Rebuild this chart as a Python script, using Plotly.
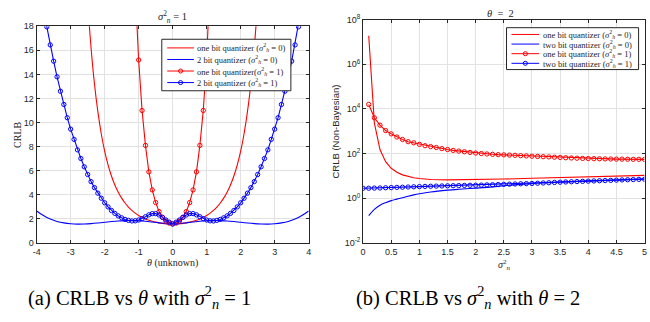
import plotly.graph_objects as go

W, H = 650, 322

# ---------------- Left panel data (sigma_n^2 = 1) ----------------
theta_one_bit = [round(-2.6 + 0.1 * i, 1) for i in range(53)]
crlb_one_bit_h0 = [25.15, 20.08, 16.22, 13.22, 10.90, 9.069, 7.627, 6.479, 5.557, 4.814,
                   4.210, 3.717, 3.311, 2.977, 2.700, 2.471, 2.280, 2.121, 1.990, 1.881,
                   1.793, 1.721, 1.665, 1.623, 1.594, 1.577, 1.571, 1.577, 1.594, 1.623,
                   1.665, 1.721, 1.793, 1.881, 1.990, 2.121, 2.280, 2.471, 2.700, 2.977,
                   3.311, 3.717, 4.210, 4.814, 5.557, 6.479, 7.627, 9.069, 10.90, 13.22,
                   16.22, 20.08, 25.15]

theta_two_bit = [round(-4.0 + 0.2 * i, 1) for i in range(41)]
crlb_two_bit_h0 = [2.65, 2.27, 1.98, 1.78, 1.66, 1.59, 1.56, 1.57, 1.60, 1.65,
                   1.71, 1.77, 1.82, 1.85, 1.86, 1.84, 1.80, 1.73, 1.66, 1.60,
                   1.57,
                   1.60, 1.66, 1.73, 1.80, 1.84, 1.86, 1.85, 1.82, 1.77, 1.71,
                   1.65, 1.60, 1.57, 1.56, 1.59, 1.66, 1.78, 1.98, 2.27, 2.65]

theta_one_bit_h1 = [round(-1.2 + 0.1 * i, 1) for i in range(25)]
crlb_one_bit_h1 = [29.0, 21.0, 15.2, 11.0, 8.10, 5.90, 4.40, 3.35, 2.60, 2.12, 1.80, 1.64,
                   1.57,
                   1.64, 1.80, 2.12, 2.60, 3.35, 4.40, 5.90, 8.10, 11.0, 15.2, 21.0, 29.0]

theta_two_bit_h1 = [round(-4.0 + 0.1 * i, 1) for i in range(81)]
crlb_two_bit_h1 = [23.2, 21.3, 19.6, 17.95, 16.45, 15.1, 13.8, 12.6, 11.5, 10.4,
                   9.45, 8.60, 7.73, 7.01, 6.32, 5.68, 5.09, 4.59, 4.13, 3.71,
                   3.33, 2.99, 2.69, 2.45, 2.24, 2.08, 1.95, 1.87, 1.82, 1.83,
                   1.90, 2.01, 2.17, 2.33, 2.43, 2.43, 2.32, 2.12, 1.90, 1.72,
                   1.57,
                   1.72, 1.90, 2.12, 2.32, 2.43, 2.43, 2.33, 2.17, 2.01, 1.90,
                   1.83, 1.82, 1.87, 1.95, 2.08, 2.24, 2.45, 2.69, 2.99, 3.33,
                   3.71, 4.13, 4.59, 5.09, 5.68, 6.32, 7.01, 7.73, 8.60, 9.45,
                   10.4, 11.5, 12.6, 13.8, 15.1, 16.45, 17.95, 19.6, 21.3, 23.2]

# ---------------- Right panel data (theta = 2) ----------------
sig_one_bit_h0 = [0.1, 0.2, 0.3, 0.4, 0.5, 0.6, 0.7, 0.8, 0.9, 1.0,
                  1.2, 1.5, 2.0, 2.5, 3.0, 3.5, 4.0, 4.5, 5.0]
nb_one_bit_h0 = [1.88e7, 2360, 151, 43.3, 21.9, 14.5, 11.1, 9.34, 8.28, 7.63,
                 6.93, 6.59, 6.73, 7.19, 7.77, 8.43, 9.12, 9.84, 10.57]

sig_two_bit_h0 = [0.1, 0.2, 0.3, 0.4, 0.5, 0.6, 0.7, 0.8, 0.9, 1.0,
                  1.2, 1.5, 1.7, 2.0, 2.3, 2.5, 3.0, 3.5, 4.0, 4.5, 5.0]
nb_two_bit_h0 = [0.166, 0.316, 0.48, 0.63, 0.78, 0.91, 1.05, 1.23, 1.41, 1.58,
                 1.90, 2.29, 2.51, 2.82, 3.20, 3.60, 4.50, 5.25, 5.95, 6.65, 7.30]

sig_one_bit_h1 = [round(0.1 * i, 1) for i in range(1, 51)]
nb_one_bit_h1 = [15800, 3980, 1860, 1070, 759, 550, 427, 339, 302, 257,
                 224, 204, 186, 166, 151, 138, 129, 120, 112, 105,
                 100, 95.5, 92.3, 89.1, 87.1, 85.1, 83.2, 80.4, 78.2, 75.9,
                 74.1, 72.4, 70.8, 68.4, 66.8, 64.6, 63.1, 61.7, 60.3, 59.6,
                 58.9, 58.2, 57.5, 56.9, 56.2, 56.0, 55.6, 55.2, 55.0, 54.6]

sig_two_bit_h1 = [round(0.1 * i, 1) for i in range(0, 51)]
nb_two_bit_h1 = [2.77, 2.80, 2.83, 2.87, 2.93, 2.99, 3.05, 3.10, 3.17, 3.24, 3.31,
                 3.37, 3.43, 3.48, 3.53, 3.58, 3.63, 3.68, 3.73, 3.78, 3.82,
                 3.87, 3.94, 4.00, 4.08, 4.17, 4.25, 4.33, 4.42, 4.50, 4.57,
                 4.68, 4.80, 4.93, 5.07, 5.20, 5.33, 5.45, 5.56, 5.68, 5.80,
                 5.93, 6.05, 6.18, 6.30, 6.45, 6.58, 6.70, 6.83, 6.96, 7.08]

left_legend = [
    ("red", False, "one bit quantizer (<i>σ</i><sup>2</sup><sub><i>h</i></sub> = 0)"),
    ("blue", False, "2 bit quantizer (<i>σ</i><sup>2</sup><sub><i>h</i></sub> = 0)"),
    ("red", True, "one bit quantizer(<i>σ</i><sup>2</sup><sub><i>h</i></sub> = 1)"),
    ("blue", True, "2 bit quantizer (<i>σ</i><sup>2</sup><sub><i>h</i></sub> = 1)"),
]
right_legend = [
    ("red", False, "one bit quantizer (<i>σ</i><sup>2</sup><sub><i>h</i></sub> = 0)"),
    ("blue", False, "two bit quantizer (<i>σ</i><sup>2</sup><sub><i>h</i></sub> = 0)"),
    ("red", True, "one bit quantizer (<i>σ</i><sup>2</sup><sub><i>h</i></sub> = 1)"),
    ("blue", True, "two bit quantizer (<i>σ</i><sup>2</sup><sub><i>h</i></sub> = 1)"),
]

AX = "#262626"
GRID = "#e2e2e2"
SERIF = "Liberation Serif, Times New Roman, serif"
SANS = "Liberation Sans, Arial, sans-serif"


def px(x):
    return x / W


def py(y):
    return 1 - y / H


fig = go.Figure()

MK = dict(symbol="circle-open", size=4.3, line=dict(width=1))

fig.add_trace(go.Scatter(x=theta_one_bit, y=crlb_one_bit_h0, mode="lines",
                         line=dict(color="red", width=1.1, shape="spline"), xaxis="x", yaxis="y"))
fig.add_trace(go.Scatter(x=theta_two_bit, y=crlb_two_bit_h0, mode="lines",
                         line=dict(color="blue", width=1.1, shape="spline"), xaxis="x", yaxis="y"))
fig.add_trace(go.Scatter(x=theta_one_bit_h1, y=crlb_one_bit_h1, mode="lines+markers",
                         line=dict(color="red", width=1.1), marker=dict(color="red", **MK),
                         xaxis="x", yaxis="y"))
fig.add_trace(go.Scatter(x=theta_two_bit_h1, y=crlb_two_bit_h1, mode="lines+markers",
                         line=dict(color="blue", width=1.1), marker=dict(color="blue", **MK),
                         xaxis="x", yaxis="y"))

fig.add_trace(go.Scatter(x=sig_one_bit_h0, y=nb_one_bit_h0, mode="lines",
                         line=dict(color="red", width=1.1), xaxis="x2", yaxis="y2"))
fig.add_trace(go.Scatter(x=sig_two_bit_h0, y=nb_two_bit_h0, mode="lines",
                         line=dict(color="blue", width=1.1, shape="spline"), xaxis="x2", yaxis="y2"))
fig.add_trace(go.Scatter(x=sig_one_bit_h1, y=nb_one_bit_h1, mode="lines+markers",
                         line=dict(color="red", width=1.1), marker=dict(color="red", **MK),
                         xaxis="x2", yaxis="y2"))
fig.add_trace(go.Scatter(x=sig_two_bit_h1, y=nb_two_bit_h1, mode="lines+markers",
                         line=dict(color="blue", width=1.1), marker=dict(color="blue", **MK),
                         xaxis="x2", yaxis="y2"))

axis_common = dict(showline=True, linecolor=AX, linewidth=1, mirror="ticks",
                   ticks="inside", ticklen=3, tickcolor=AX, tickwidth=1,
                   showgrid=True, gridcolor=GRID, gridwidth=1, zeroline=False,
                   tickfont=dict(family=SANS, size=9, color=AX))

left_x_ticks = [-4, -3, -2, -1, 0, 1, 2, 3, 4]
left_y_ticks = [0, 2, 4, 6, 8, 10, 12, 14, 16, 18]
right_x_ticks = [0, 0.5, 1, 1.5, 2, 2.5, 3, 3.5, 4, 4.5, 5]
right_y_ticks = [1e-2, 1e0, 1e2, 1e4, 1e6, 1e8]

fig.update_layout(
    width=W, height=H, margin=dict(l=0, r=0, t=0, b=0),
    paper_bgcolor="white", plot_bgcolor="white", showlegend=False,
    xaxis=dict(domain=[px(33), px(308)], range=[-4, 4], anchor="y",
               tickvals=left_x_ticks, ticktext=[str(v) for v in left_x_ticks], **axis_common),
    yaxis=dict(domain=[py(245), py(20)], range=[0, 18], anchor="x",
               tickvals=left_y_ticks, ticktext=[str(v) for v in left_y_ticks], **axis_common),
    xaxis2=dict(domain=[px(363), px(647.5)], range=[0, 5], anchor="y2",
                tickvals=right_x_ticks, ticktext=["0", "0.5", "1", "1.5", "2", "2.5", "3", "3.5", "4", "4.5", "5"],
                **axis_common),
    yaxis2=dict(domain=[py(245), py(13)], type="log", range=[-2, 8], anchor="x2",
                tickvals=right_y_ticks,
                ticktext=["10<sup>-2</sup>", "10<sup>0</sup>", "10<sup>2</sup>",
                          "10<sup>4</sup>", "10<sup>6</sup>", "10<sup>8</sup>"],
                **axis_common),
)

shapes = []
annotations = []


def add_text(x, y, text, size, family=SERIF, color=AX, angle=0, xanchor="center"):
    annotations.append(dict(x=px(x), y=py(y), xref="paper", yref="paper", text=text,
                            showarrow=False, font=dict(family=family, size=size, color=color),
                            textangle=angle, xanchor=xanchor, yanchor="middle"))


def add_legend(box, rows, line_x, text_x, entries):
    x0, y0, x1, y1 = box
    shapes.append(dict(type="rect", xref="paper", yref="paper", x0=px(x0), x1=px(x1),
                       y0=py(y1), y1=py(y0), line=dict(color=AX, width=1), fillcolor="white"))
    for (color, marker, label), ry in zip(entries, rows):
        shapes.append(dict(type="line", xref="paper", yref="paper", x0=px(line_x[0]), x1=px(line_x[1]),
                           y0=py(ry), y1=py(ry), line=dict(color=color, width=1)))
        if marker:
            cx = (line_x[0] + line_x[1]) / 2
            r = 2.1
            shapes.append(dict(type="circle", xref="paper", yref="paper",
                               x0=px(cx - r), x1=px(cx + r), y0=py(ry + r), y1=py(ry - r),
                               line=dict(color=color, width=1), fillcolor="rgba(0,0,0,0)"))
        add_text(text_x, ry, label, 8.5, xanchor="left")


add_legend((159.5, 33.5, 290, 87), [42.5, 54.5, 66.5, 78.5], (165, 192), 193.5, left_legend)
add_legend((508, 21.5, 641.5, 65), [28.5, 38.5, 48.5, 58.5], (513, 541), 542.5, right_legend)

# titles and axis labels
add_text(170.5, 10, "<i>σ</i><sup>2</sup><sub><i>n</i></sub> = 1", 10.5)
add_text(502, 7, "<i>θ</i>  =  2", 10.5)
add_text(13, 133, "CRLB", 10, angle=-90)
add_text(335, 129, "CRLB (Non-Bayesian)", 9.5, family=SANS, angle=-90)
add_text(170.5, 266, "<i>θ</i> (unknown)", 10)
add_text(505, 268, "<i>σ</i><sup>2</sup><sub><i>n</i></sub>", 10)

# captions
add_text(136.5, 302, "(a) CRLB vs <i>θ</i> with <i>σ</i><sup>2</sup><sub><i>n</i></sub> = 1", 20.5, color="black")
add_text(469, 302, "(b) CRLB vs <i>σ</i><sup>2</sup><sub><i>n</i></sub> with <i>θ</i> = 2", 20.5, color="black")

fig.update_layout(shapes=shapes, annotations=annotations)

fig.write_html("out.html")
